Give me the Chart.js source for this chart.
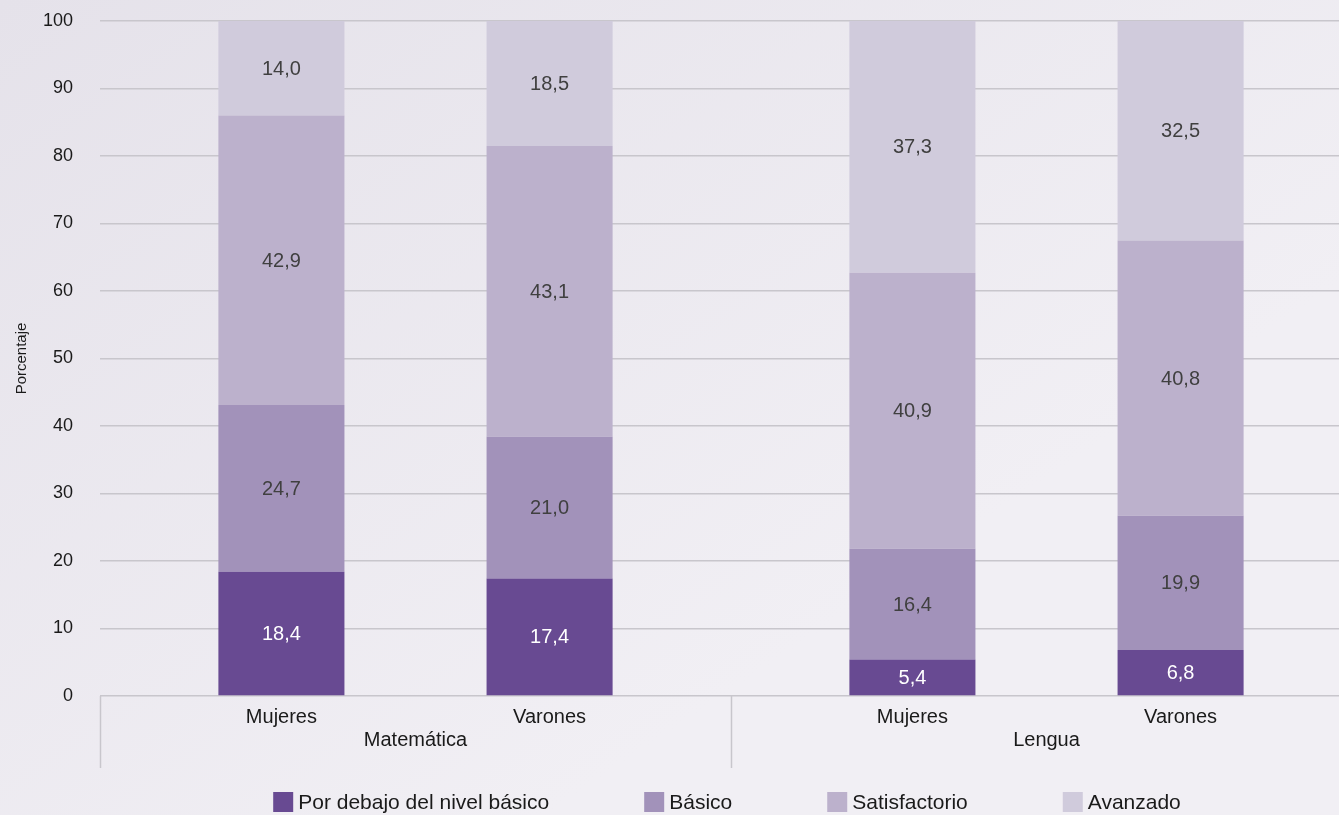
<!DOCTYPE html>
<html lang="es">
<head>
<meta charset="utf-8">
<title>Niveles de desempeño por sexo</title>
<script src="https://cdn.jsdelivr.net/npm/chart.js@4"></script>
<style>
  html, body { margin: 0; padding: 0; background: #ebe8ef; overflow: hidden; }
  /* el área de trazado continúa un poco más allá del borde derecho, como en el original recortado */
  #clip { width: 1339px; height: 815px; overflow: hidden; }
  #wrap { position: relative; width: 1362px; height: 815px; }
</style>
</head>
<body>
<div id="clip"><div id="wrap"><canvas id="chart"></canvas></div></div>
<script>
  // categorías: área (nivel superior) y sexo (nivel inferior)
  const areas = ['Matemática', 'Lengua'];
  const sexos = ['Mujeres', 'Varones'];

  // porcentajes por nivel, en orden: Mat-Mujeres, Mat-Varones, Lengua-Mujeres, Lengua-Varones
  const porDebajo = [18.4, 17.4, 5.4, 6.8];
  const basico = [24.7, 21.0, 16.4, 19.9];
  const satisfactorio = [42.9, 43.1, 40.9, 40.8];
  const avanzado = [14.0, 18.5, 37.3, 32.5];

  const niveles = ['Por debajo del nivel básico', 'Básico', 'Satisfactorio', 'Avanzado'];
  const yTicks = [0, 10, 20, 30, 40, 50, 60, 70, 80, 90, 100];

  const COLORES = ['#684a92', '#a292ba', '#bcb1cc', '#d0cbdc'];
  const FONT = '"Liberation Sans", Arial, Helvetica, sans-serif';
  const GRID = '#c8c6cc';
  const INK = '#1a1a1a';

  const fmt = v => v.toFixed(1).replace('.', ',');
  const series = [porDebajo, basico, satisfactorio, avanzado];

  // un dataset por nivel y sexo; cada sexo es una pila dentro del área
  const datasets = [];
  series.forEach((arr, l) => {
    sexos.forEach((sx, s) => {
      datasets.push({
        label: niveles[l], nivel: l, stack: sx,
        data: areas.map((_, a) => arr[a * 2 + s]),
        backgroundColor: COLORES[l], borderWidth: 0,
        barPercentage: 0.47, categoryPercentage: 0.85,
      });
    });
  });

  // fondo lila claro
  const fondo = {
    id: 'fondo',
    beforeDraw(chart) {
      const { ctx, width, height } = chart;
      const g = ctx.createLinearGradient(0, 0, width * 0.4, height);
      g.addColorStop(0, '#e5e2ea');
      g.addColorStop(1, '#f1eff4');
      ctx.save(); ctx.fillStyle = g; ctx.fillRect(0, 0, width, height); ctx.restore();
    },
  };

  // etiquetas de valor dentro de cada segmento
  const valores = {
    id: 'valores',
    afterDatasetsDraw(chart) {
      const { ctx } = chart;
      ctx.save();
      ctx.font = '20px ' + FONT;
      ctx.textAlign = 'center'; ctx.textBaseline = 'middle';
      chart.data.datasets.forEach((ds, di) => {
        chart.getDatasetMeta(di).data.forEach((bar, i) => {
          const { x, y, base } = bar.getProps(['x', 'y', 'base'], true);
          ctx.fillStyle = ds.nivel === 0 ? '#ffffff' : '#404040';
          ctx.fillText(fmt(ds.data[i]), x, (y + base) / 2 + 1);
        });
      });
      ctx.restore();
    },
  };

  // eje agrupado: nombres de sexo bajo cada pila y separadores de área
  const grupos = {
    id: 'grupos',
    afterDraw(chart) {
      const { ctx, chartArea } = chart;
      const xs = chart.scales.x;
      const sep = [chartArea.left, (xs.getPixelForValue(0) + xs.getPixelForValue(1)) / 2];
      ctx.save();
      ctx.strokeStyle = GRID; ctx.lineWidth = 1.5;
      sep.forEach(x => {
        const px = Math.round(x) + 0.5;
        ctx.beginPath(); ctx.moveTo(px, chartArea.bottom); ctx.lineTo(px, chartArea.bottom + 72); ctx.stroke();
      });
      ctx.fillStyle = INK; ctx.font = '20px ' + FONT;
      ctx.textAlign = 'center'; ctx.textBaseline = 'middle';
      sexos.forEach((sx, s) => {
        chart.getDatasetMeta(s).data.forEach(bar => {
          ctx.fillText(sx, bar.x, chartArea.bottom + 21);
        });
      });
      ctx.restore();
    },
  };

  // leyenda inferior (un elemento por nivel)
  const leyenda = {
    id: 'leyenda',
    afterDraw(chart) {
      const { ctx, chartArea } = chart;
      const box = 20, gapTxt = 5, gap = 95, y = 792;
      ctx.save();
      ctx.font = '21px ' + FONT;
      const items = niveles.map((t, l) => ({ t, c: COLORES[l], w: box + gapTxt + ctx.measureText(t).width }));
      const total = items.reduce((s, it) => s + it.w, 0) + gap * (items.length - 1);
      let x = (chartArea.left + chartArea.right) / 2 - 4 - total / 2;
      ctx.textBaseline = 'middle'; ctx.textAlign = 'left';
      items.forEach(it => {
        ctx.fillStyle = it.c; ctx.fillRect(x, y, box, box);
        ctx.fillStyle = INK; ctx.fillText(it.t, x + box + gapTxt, y + box / 2 + 1);
        x += it.w + gap;
      });
      ctx.restore();
    },
  };

  new Chart(document.getElementById('chart'), {
    type: 'bar',
    data: { labels: areas, datasets },
    options: {
      responsive: true, maintainAspectRatio: false, animation: false,
      layout: { padding: { top: 21, right: 0, bottom: 0, left: 13 } },
      plugins: { legend: { display: false }, tooltip: { enabled: false } },
      scales: {
        x: {
          stacked: true,
          grid: { display: false, drawTicks: false },
          border: { display: false },
          ticks: { color: INK, font: { size: 20, family: FONT }, padding: 32 },
          afterFit: s => { s.height = 119; },
        },
        y: {
          stacked: true, min: 0, max: 100,
          afterBuildTicks: s => { s.ticks = yTicks.map(v => ({ value: v })); },
          grid: { color: GRID, lineWidth: 1.5, drawTicks: false },
          border: { display: false },
          ticks: { color: INK, font: { size: 18, family: FONT }, padding: 27 },
          title: { display: true, text: 'Porcentaje', color: INK, font: { size: 15, family: FONT }, padding: { top: 0, bottom: 0 } },
          afterFit: s => { s.width = 87; s.paddingTop = 0; s.paddingBottom = 0; },
        },
      },
    },
    plugins: [fondo, valores, grupos, leyenda],
  });
</script>
</body>
</html>
